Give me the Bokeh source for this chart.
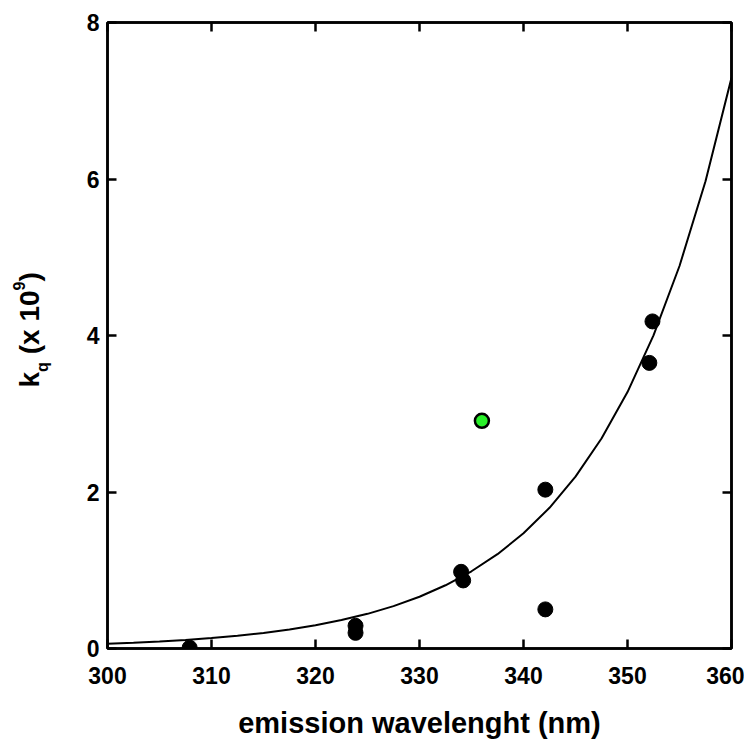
from bokeh.plotting import figure
from bokeh.models import LinearAxis, FixedTicker, Range1d, CustomJSTickFormatter
from bokeh.layouts import row
from bokeh.core.properties import value
from bokeh.embed import file_html
from bokeh.resources import INLINE
import math

# ---- data ----
x_ticks = [300, 310, 320, 330, 340, 350, 360]
y_ticks = [0, 2, 4, 6, 8]

black_x = [307.9, 323.85, 323.85, 334.0, 334.2, 342.1, 342.1, 352.4, 352.1]
black_y = [0.01, 0.29, 0.20, 0.98, 0.87, 2.03, 0.50, 4.18, 3.65]

green_x = [336.0]
green_y = [2.91]

curve_x = [300, 302.5, 305, 307.5, 310, 312.5, 315, 317.5, 320, 322.5, 325, 327.5,
           330, 332.5, 335, 337.5, 340, 342.5, 345, 347.5, 350, 352.5, 355, 357.5, 360]
curve_y = [0.060, 0.073, 0.090, 0.109, 0.134, 0.163, 0.199, 0.243, 0.297, 0.363, 0.443, 0.542,
           0.661, 0.808, 0.987, 1.205, 1.472, 1.798, 2.196, 2.683, 3.277, 4.002, 4.888, 5.971, 7.293]

x_title = "emission wavelenght (nm)"
y_title_parts = ["k", "q", "(x 10", "9", ")"]

FONT = "Liberation Sans"
LEFT_W = 60

p = figure(frame_width=624, frame_height=626,
           x_range=Range1d(300, 360), y_range=Range1d(0, 8),
           output_backend="svg", toolbar_location=None,
           min_border_left=107 - LEFT_W, min_border_top=22, min_border_right=13, min_border_bottom=89)
p.grid.visible = False
p.outline_line_color = "black"
p.outline_line_width = 2.5

for ax in (p.xaxis, p.yaxis):
    ax.major_tick_in = 9
    ax.major_tick_out = 0
    ax.minor_tick_line_color = None
    ax.axis_line_width = 2.5
    ax.major_tick_line_width = 2.5
    ax.major_label_text_font = FONT
    ax.major_label_text_font_style = "bold"
    ax.major_label_text_font_size = "23px"
    ax.major_label_text_color = "black"

p.xaxis.ticker = FixedTicker(ticks=x_ticks)
p.yaxis.ticker = FixedTicker(ticks=y_ticks)
p.xaxis.major_label_standoff = 18
p.yaxis.major_label_standoff = 8

p.xaxis.axis_label = x_title
p.xaxis.axis_label_text_font = FONT
p.xaxis.axis_label_text_font_style = "bold"
p.xaxis.axis_label_text_font_size = "29px"
p.xaxis.axis_label_text_color = "black"
p.xaxis.axis_label_standoff = 20

# mirrored ticks on top / right
top = LinearAxis(ticker=FixedTicker(ticks=x_ticks), formatter=CustomJSTickFormatter(code="return ''"),
                 major_tick_in=9, major_tick_out=0, minor_tick_line_color=None,
                 axis_line_width=2.5, major_tick_line_width=2.5, major_label_standoff=0,
                 major_label_text_font_size="1px")
right = LinearAxis(ticker=FixedTicker(ticks=y_ticks), formatter=CustomJSTickFormatter(code="return ''"),
                   major_tick_in=9, major_tick_out=0, minor_tick_line_color=None,
                   axis_line_width=2.5, major_tick_line_width=2.5, major_label_standoff=0,
                   major_label_text_font_size="1px")
p.add_layout(top, "above")
p.add_layout(right, "right")

# fitted curve
p.line(curve_x, curve_y, line_color="black", line_width=2)

# data points
p.scatter(black_x, black_y, size=15, fill_color="black", line_color="black", line_width=1)
p.scatter(green_x, green_y, size=14, fill_color="#2af02a", line_color="black", line_width=2.5)

# ---- left strip holding the rotated y title  k_q (x 10^9) ----
lf = figure(frame_width=LEFT_W, frame_height=626,
            x_range=Range1d(0, LEFT_W), y_range=Range1d(648, 22),
            output_backend="svg", toolbar_location=None,
            x_axis_location=None, y_axis_location=None,
            min_border_left=0, min_border_right=0, min_border_top=22, min_border_bottom=89)
lf.grid.visible = False
lf.outline_line_color = None

ang = math.pi / 2
# (baseline x, start y, size) for each piece, in pixels of the strip
piece_x = [29, 42, 29, 18, 29]
piece_y = [387, 371.4, 353.8, 290.0, 281.1]
piece_size = ["28px", "16px", "28px", "16px", "28px"]
for t, px, py, fs in zip(y_title_parts, piece_x, piece_y, piece_size):
    lf.text(x=[px], y=[py], text=[t], angle=ang, text_font=value(FONT),
            text_font_style="bold", text_font_size=fs, text_color="black",
            text_align="left", text_baseline="alphabetic")

layout = row(lf, p, spacing=0)
open("out.html", "w").write(file_html(layout, INLINE))
